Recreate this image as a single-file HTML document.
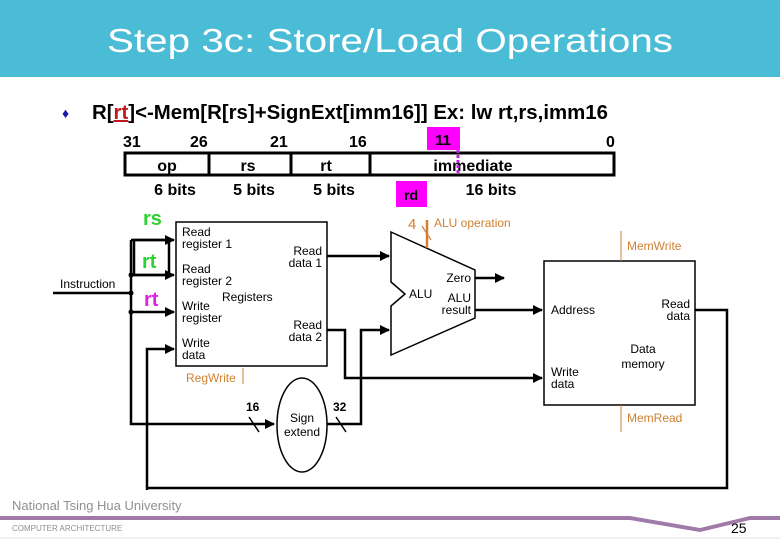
<!DOCTYPE html>
<html><head><meta charset="utf-8"><style>
html,body{margin:0;padding:0;background:#fff}
svg{display:block}
text{font-family:"Liberation Sans",sans-serif}
</style></head><body>
<svg width="780" height="540" viewBox="0 0 780 540" xmlns="http://www.w3.org/2000/svg">
<defs>
<marker id="a" viewBox="0 0 10 10" refX="9" refY="5" markerWidth="4" markerHeight="4" orient="auto"><path d="M0,0L10,5L0,10z" fill="#000"/></marker>
</defs>
<rect x="0" y="0" width="780" height="77" fill="#4bbcd6"/>
<text x="390" y="52" text-anchor="middle" font-family="DejaVu Sans" font-size="33" fill="#fff" textLength="566" lengthAdjust="spacingAndGlyphs">Step 3c: Store/Load Operations</text>
<text x="62" y="118" font-size="14" fill="#1a1aa8">♦</text>
<text x="92" y="119" font-size="20" font-weight="bold" textLength="516" lengthAdjust="spacingAndGlyphs">R[<tspan fill="#c0181e" text-decoration="underline">rt</tspan>]&lt;-Mem[R[rs]+SignExt[imm16]]   Ex: lw rt,rs,imm16</text>
<g font-size="16" font-weight="bold">
<text x="123" y="147">31</text><text x="190" y="147">26</text><text x="270" y="147">21</text><text x="349" y="147">16</text><text x="606" y="147">0</text>
</g>
<rect x="125" y="153" width="489" height="22" fill="none" stroke="#000" stroke-width="3"/>
<line x1="209" y1="153" x2="209" y2="175" stroke="#000" stroke-width="3"/>
<line x1="291" y1="153" x2="291" y2="175" stroke="#000" stroke-width="3"/>
<line x1="370" y1="153" x2="370" y2="175" stroke="#000" stroke-width="3"/>
<g font-size="16" font-weight="bold" text-anchor="middle">
<text x="167" y="171">op</text><text x="248" y="171">rs</text><text x="326" y="171">rt</text><text x="473" y="171">immediate</text>
<text x="175" y="195">6 bits</text><text x="254" y="195">5 bits</text><text x="334" y="195">5 bits</text><text x="491" y="195">16 bits</text>
</g>
<rect x="427" y="127" width="33" height="23" fill="#f0f"/>
<text x="443" y="145" font-size="15" font-weight="bold" text-anchor="middle">11</text>
<line x1="458" y1="150" x2="458" y2="174" stroke="#c020e0" stroke-width="3" stroke-dasharray="3,2"/>
<rect x="396" y="181" width="31" height="26" fill="#f0f"/>
<text x="411" y="200" font-size="14" font-weight="bold" text-anchor="middle">rd</text>
<rect x="176" y="222" width="151" height="144" fill="#fff" stroke="#000" stroke-width="1.5"/>
<g font-size="12">
<text x="182" y="236">Read</text><text x="182" y="248">register 1</text>
<text x="182" y="273">Read</text><text x="182" y="285">register 2</text>
<text x="222" y="301">Registers</text>
<text x="182" y="310">Write</text><text x="182" y="322">register</text>
<text x="182" y="347">Write</text><text x="182" y="359">data</text>
<text x="322" y="255" text-anchor="end">Read</text><text x="322" y="267" text-anchor="end">data 1</text>
<text x="322" y="329" text-anchor="end">Read</text><text x="322" y="341" text-anchor="end">data 2</text>
</g>
<text x="186" y="382" font-size="12" fill="#d08030">RegWrite</text>
<line x1="243" y1="368" x2="243" y2="384" stroke="#d08030"/>
<text x="143" y="225" font-size="20" font-weight="bold" fill="#30d030">rs</text>
<text x="142" y="268" font-size="20" font-weight="bold" fill="#30d030" font-family="Liberation Serif">rt</text>
<text x="144" y="306" font-size="20" font-weight="bold" fill="#e020e0">rt</text>
<text x="60" y="288" font-size="12">Instruction</text>
<g stroke="#000" stroke-width="2.5" fill="none">
<line x1="53" y1="293" x2="131" y2="293"/>
<polyline points="131,240 131,424 274,424" marker-end="url(#a)"/>
<line x1="131" y1="240" x2="174" y2="240" marker-end="url(#a)"/>
<rect x="134" y="240" width="35" height="35"/>
<line x1="131" y1="275" x2="174" y2="275" marker-end="url(#a)"/>
<line x1="131" y1="312" x2="174" y2="312" marker-end="url(#a)"/>
<polyline points="147,490 147,349 174,349" marker-end="url(#a)"/>
<polyline points="147,488 727,488 727,310 695,310"/>
<line x1="327" y1="256" x2="389" y2="256" marker-end="url(#a)"/>
<polyline points="327,330 345,330 345,378 542,378" marker-end="url(#a)"/>
<polyline points="327,424 361,424 361,330 389,330" marker-end="url(#a)"/>
<line x1="475" y1="278" x2="504" y2="278" marker-end="url(#a)"/>
<line x1="475" y1="310" x2="542" y2="310" marker-end="url(#a)"/>
</g>
<circle cx="131" cy="293" r="2.5"/><circle cx="131" cy="275" r="2.5"/><circle cx="131" cy="312" r="2.5"/>
<ellipse cx="302" cy="425" rx="25" ry="47" fill="#fff" stroke="#000" stroke-width="1.5"/>
<text x="302" y="422" font-size="12" text-anchor="middle">Sign</text>
<text x="302" y="436" font-size="12" text-anchor="middle">extend</text>
<text x="246" y="411" font-size="12" font-weight="bold">16</text>
<text x="333" y="411" font-size="12" font-weight="bold">32</text>
<line x1="249" y1="417" x2="259" y2="432" stroke="#000" stroke-width="1.5"/>
<line x1="336" y1="417" x2="346" y2="432" stroke="#000" stroke-width="1.5"/>
<polygon points="391,232 475,270 475,318 391,355 391,306 405,294 391,282" fill="#fff" stroke="#000" stroke-width="1.5"/>
<g font-size="12">
<text x="409" y="298">ALU</text>
<text x="471" y="282" text-anchor="end">Zero</text>
<text x="471" y="302" text-anchor="end">ALU</text>
<text x="471" y="314" text-anchor="end">result</text>
</g>
<line x1="427" y1="220" x2="427" y2="248" stroke="#d08030" stroke-width="2.5"/>
<line x1="422" y1="226" x2="431" y2="240" stroke="#d08030" stroke-width="1.2"/>
<text x="408" y="229" font-size="15" fill="#d08030">4</text>
<text x="434" y="227" font-size="12" fill="#d08030">ALU operation</text>
<rect x="544" y="261" width="151" height="144" fill="#fff" stroke="#000" stroke-width="1.5"/>
<g font-size="12">
<text x="551" y="314">Address</text>
<text x="690" y="308" text-anchor="end">Read</text><text x="690" y="320" text-anchor="end">data</text>
<text x="643" y="353" text-anchor="middle">Data</text><text x="643" y="368" text-anchor="middle">memory</text>
<text x="551" y="376">Write</text><text x="551" y="388">data</text>
</g>
<line x1="621" y1="231" x2="621" y2="261" stroke="#d08030"/>
<line x1="621" y1="405" x2="621" y2="432" stroke="#d08030"/>
<text x="627" y="250" font-size="12" fill="#d08030">MemWrite</text>
<text x="627" y="422" font-size="12" fill="#d08030">MemRead</text>
<text x="12" y="510" font-size="13" fill="#909090">National  Tsing  Hua  University</text>
<path d="M0,516 L630,516 L700,528 L750,516 L780,516 L780,520 L750,520 L700,532 L630,520 L0,520Z" fill="#a07aa8"/>
<text x="12" y="531" font-size="8" fill="#909090">COMPUTER   ARCHITECTURE</text>
<text x="731" y="533" font-size="14">25</text>
<line x1="0" y1="538" x2="780" y2="538" stroke="#e0e0e0"/>
</svg>
</body></html>
